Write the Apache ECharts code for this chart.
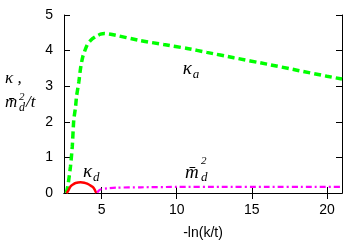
<!DOCTYPE html>
<html><head><meta charset="utf-8">
<script src="https://cdn.jsdelivr.net/npm/echarts@6/dist/echarts.min.js"></script>
<style>html,body{margin:0;padding:0;background:#fff}#c{width:349px;height:249px}</style>
</head><body><div id="c"></div>
<script>
// kappa_a (green dashed)
const kappaA = [[2.65,0],[2.75,0.18],[2.93,0.74],[3.05,1.3],[3.15,2.05],[3.27,2.42],[3.33,2.7],[3.49,3.13],[3.6,3.5],[3.75,3.83],[4.04,4.16],[4.3,4.3],[4.6,4.39],[4.93,4.46],[5.2,4.48],[5.7,4.45],[7.6,4.28],[9.14,4.17],[10.7,4.06],[12.0,3.95],[13.8,3.8],[16,3.62],[18,3.45],[20,3.28],[21,3.2]];
// kappa_d (red solid)
const kappaD = [[2.65,0],[2.75,0.04],[2.93,0.18],[3.1,0.24],[3.27,0.28],[3.6,0.30],[3.85,0.29],[4.04,0.26],[4.3,0.2],[4.44,0.16],[4.55,0.09],[4.6,0.04],[4.65,0]];
// m_d^2 (magenta dash-dot)
const mD2 = [[4.71,0.01],[4.8,0.06],[4.93,0.1],[5.37,0.13],[6.04,0.15],[7.6,0.16],[10,0.17],[13,0.17],[16,0.17],[19,0.17],[21,0.17]];
const xTicks = [5,10,15,20];
const yTicks = [0,1,2,3,4,5];

const chart = echarts.init(document.getElementById('c'), null, {renderer:'canvas'});
const tickFont = {color:'#000', fontSize:14, fontFamily:'Liberation Sans'};
const axLine = {show:true, lineStyle:{color:'#000', width:1}};
const tick = {show:true, inside:true, length:6, lineStyle:{color:'#000', width:1}};
chart.setOption({
  animation:false,
  grid:{left:64, right:7, top:15, bottom:56, containLabel:false},
  xAxis:[
    {type:'value', position:'bottom', min:2.5, max:21, axisLine:axLine, splitLine:{show:false},
     axisTick:Object.assign({customValues:xTicks}, tick),
     axisLabel:Object.assign({customValues:xTicks, margin:10}, tickFont),
     name:'-ln(k/t)', nameLocation:'middle', nameGap:33,
     nameTextStyle:{color:'#000', fontSize:14, fontFamily:'Liberation Sans'}},
    {type:'value', position:'top', min:2.5, max:21, axisLine:axLine, splitLine:{show:false},
     axisTick:Object.assign({customValues:xTicks}, tick), axisLabel:{show:false}}
  ],
  yAxis:[
    {type:'value', position:'left', min:0, max:5, interval:1, axisLine:axLine, splitLine:{show:false},
     axisTick:tick, axisLabel:Object.assign({margin:11}, tickFont)},
    {type:'value', position:'right', min:0, max:5, interval:1, axisLine:axLine, splitLine:{show:false},
     axisTick:tick, axisLabel:{show:false}}
  ],
  series:[
    {type:'line', data:kappaA, showSymbol:false, symbol:'none', smooth:0.2,
     lineStyle:{color:'#00ff00', width:3.5, type:[7,4]}},
    {type:'line', data:kappaD, showSymbol:false, symbol:'none', smooth:0.3,
     lineStyle:{color:'#ff0000', width:2.5}},
    {type:'line', data:mD2, showSymbol:false, symbol:'none', smooth:0.2,
     lineStyle:{color:'#ff00ff', width:2.2, type:[6,3,2,3]}}
  ]
});

const serif = 'Liberation Serif';
function txt(x, y, s, size, extra){
  return Object.assign({type:'text', x:x, y:y, style:{text:s, font:'italic '+size+'px "'+serif+'"', fill:'#000', textAlign:'left', textVerticalAlign:'middle'}}, extra||{});
}
function at(xv, yv){ return chart.convertToPixel({xAxisIndex:0, yAxisIndex:0}, [xv, yv]); }
const pa = at(11.0, 3.48), pd = at(4.36, 0.58), pm = at(11.35, 0.58);
chart.setOption({graphic:[
  // y axis title
  txt(5, 79, 'κ ,', 17),
  txt(5, 103, 'm̄', 17),
  txt(19, 97, '2', 11),
  txt(19, 108, 'd', 12),
  txt(26, 103, '/t', 17),
  // kappa_a
  txt(pa[0]-9, pa[1], 'κ', 19), txt(pa[0]+1, pa[1]+5, 'a', 13),
  // kappa_d
  txt(pd[0]-9, pd[1], 'κ', 19), txt(pd[0]+1, pd[1]+5, 'd', 13),
  // m_d^2
  txt(pm[0]-12, pm[1]+1, 'm̄', 19), txt(pm[0]+4, pm[1]-11, '2', 11), txt(pm[0]+4, pm[1]+5, 'd', 13)
]});
</script></body></html>
